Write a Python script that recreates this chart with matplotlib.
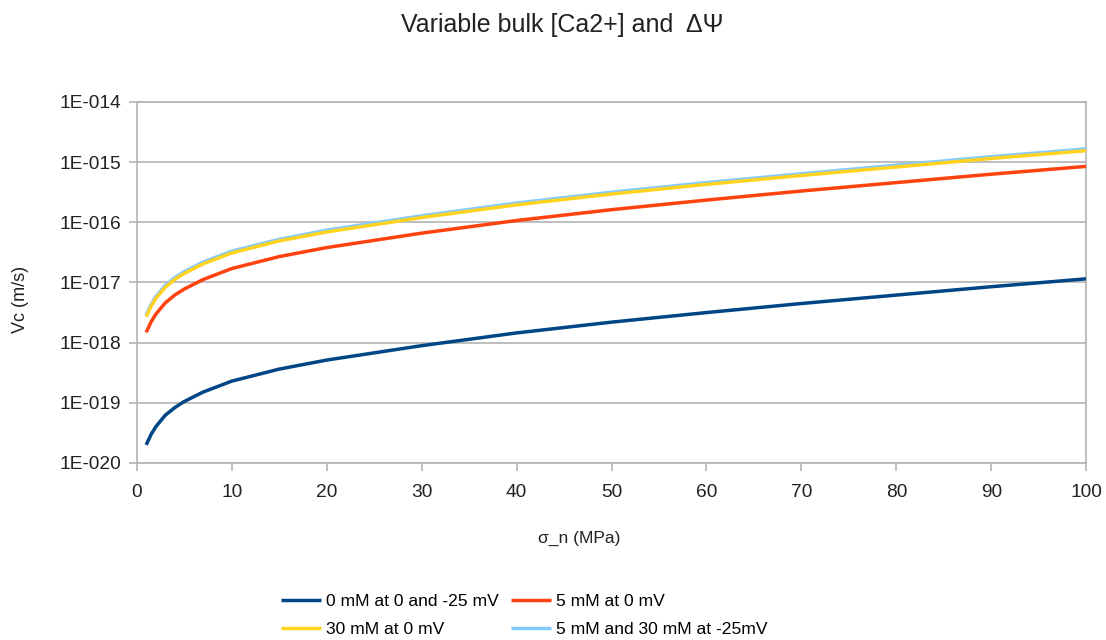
import numpy as np
import matplotlib
matplotlib.use("Agg")
import matplotlib.pyplot as plt
from matplotlib.ticker import FixedLocator, FuncFormatter

plt.rcParams['font.family'] = ['Liberation Sans', 'DejaVu Sans']

# normal stress (MPa)
sigma = [1, 1.5, 2, 3, 4, 5, 7, 10, 15, 20, 30, 40, 50, 60, 70, 80, 90, 100]

# creep velocity Vc (m/s) for each case
vc_0mM = [2.0e-20, 2.95e-20, 3.98e-20, 6.2e-20, 8.3e-20, 1.05e-19, 1.51e-19, 2.29e-19,
          3.63e-19, 5.13e-19, 8.9e-19, 1.45e-18, 2.19e-18, 3.16e-18, 4.47e-18,
          6.17e-18, 8.5e-18, 1.15e-17]
vc_5mM = [1.48e-18, 2.19e-18, 2.95e-18, 4.57e-18, 6.17e-18, 7.76e-18, 1.12e-17, 1.70e-17,
          2.69e-17, 3.8e-17, 6.6e-17, 1.07e-16, 1.62e-16, 2.34e-16, 3.31e-16,
          4.57e-16, 6.3e-16, 8.5e-16]
vc_30mM = [2.69e-18, 3.98e-18, 5.37e-18, 8.3e-18, 1.12e-17, 1.41e-17, 2.04e-17, 3.09e-17,
           4.9e-17, 6.9e-17, 1.20e-16, 1.95e-16, 2.95e-16, 4.27e-16, 6.0e-16,
           8.3e-16, 1.15e-15, 1.55e-15]
vc_25mV = [2.88e-18, 4.26e-18, 5.75e-18, 8.9e-18, 1.20e-17, 1.51e-17, 2.18e-17, 3.31e-17,
           5.2e-17, 7.4e-17, 1.28e-16, 2.09e-16, 3.16e-16, 4.57e-16, 6.4e-16,
           8.9e-16, 1.23e-15, 1.66e-15]

labels = ["0 mM at 0 and -25 mV", "5 mM at 0 mV", "30 mM at 0 mV",
          "5 mM and 30 mM at -25mV"]
colors = ["#004586", "#ff420e", "#ffd320", "#83caff"]

fig = plt.figure(figsize=(11.06, 6.4), dpi=100)
ax = fig.add_axes([0.1236, 0.2766, 0.8586, 0.5641])

grid_c = "#b3b3b3"
txt_c = "#222222"
series = [vc_0mM, vc_5mM, vc_30mM, vc_25mV]
zs = [4, 4, 4, 3]
lines = []
for vals, lab, c, z in zip(series, labels, colors, zs):
    ln, = ax.plot(sigma, vals, color=c, lw=2.5, label=lab, zorder=z,
                  solid_capstyle='butt')
    lines.append(ln)

ax.set_yscale('log')
ax.set_xlim(0, 100)
ax.set_ylim(1e-20, 1e-14)
ax.xaxis.set_major_locator(FixedLocator(np.arange(0, 101, 10)))
ax.yaxis.set_major_locator(FixedLocator([10.0 ** e for e in range(-20, -13)]))
ax.yaxis.set_minor_locator(FixedLocator([]))
ax.yaxis.set_major_formatter(FuncFormatter(
    lambda v, p: "1E-%03d" % abs(int(round(np.log10(v))))))

ax.grid(axis='y', color=grid_c, lw=1.2)
ax.set_axisbelow(True)
for s in ax.spines.values():
    s.set_color(grid_c)
    s.set_linewidth(1.2)
ax.tick_params(axis='both', color=grid_c, length=6, width=1.2, labelsize=13.8,
               labelcolor=txt_c)
ax.tick_params(axis='y', pad=5)
ax.tick_params(axis='x', pad=9)

fig.text(562.5 / 1106, 1 - 25 / 640, "Variable bulk [Ca2+] and  \u0394\u03a8",
         fontsize=18, ha='center', va='center', color=txt_c)
ax.set_xlabel("\u03c3_n (MPa)", fontsize=12.5, color=txt_c)
ax.xaxis.set_label_coords(0.466, -0.187)
ax.set_ylabel("Vc (m/s)", fontsize=13, color=txt_c)
ax.yaxis.set_label_coords(-0.1135, 0.454)

# legend filled row by row: blue, red / yellow, light blue
order = [0, 2, 1, 3]
fig.legend([lines[i] for i in order], [labels[i] for i in order],
           loc='center left', bbox_to_anchor=(272 / 1106, 1 - 615.5 / 640),
           ncol=2, frameon=False, fontsize=12.6, borderpad=0,
           handlelength=2.29, handletextpad=0.3, columnspacing=0.69,
           labelspacing=0.7)

fig.savefig("out.png", dpi=100)
